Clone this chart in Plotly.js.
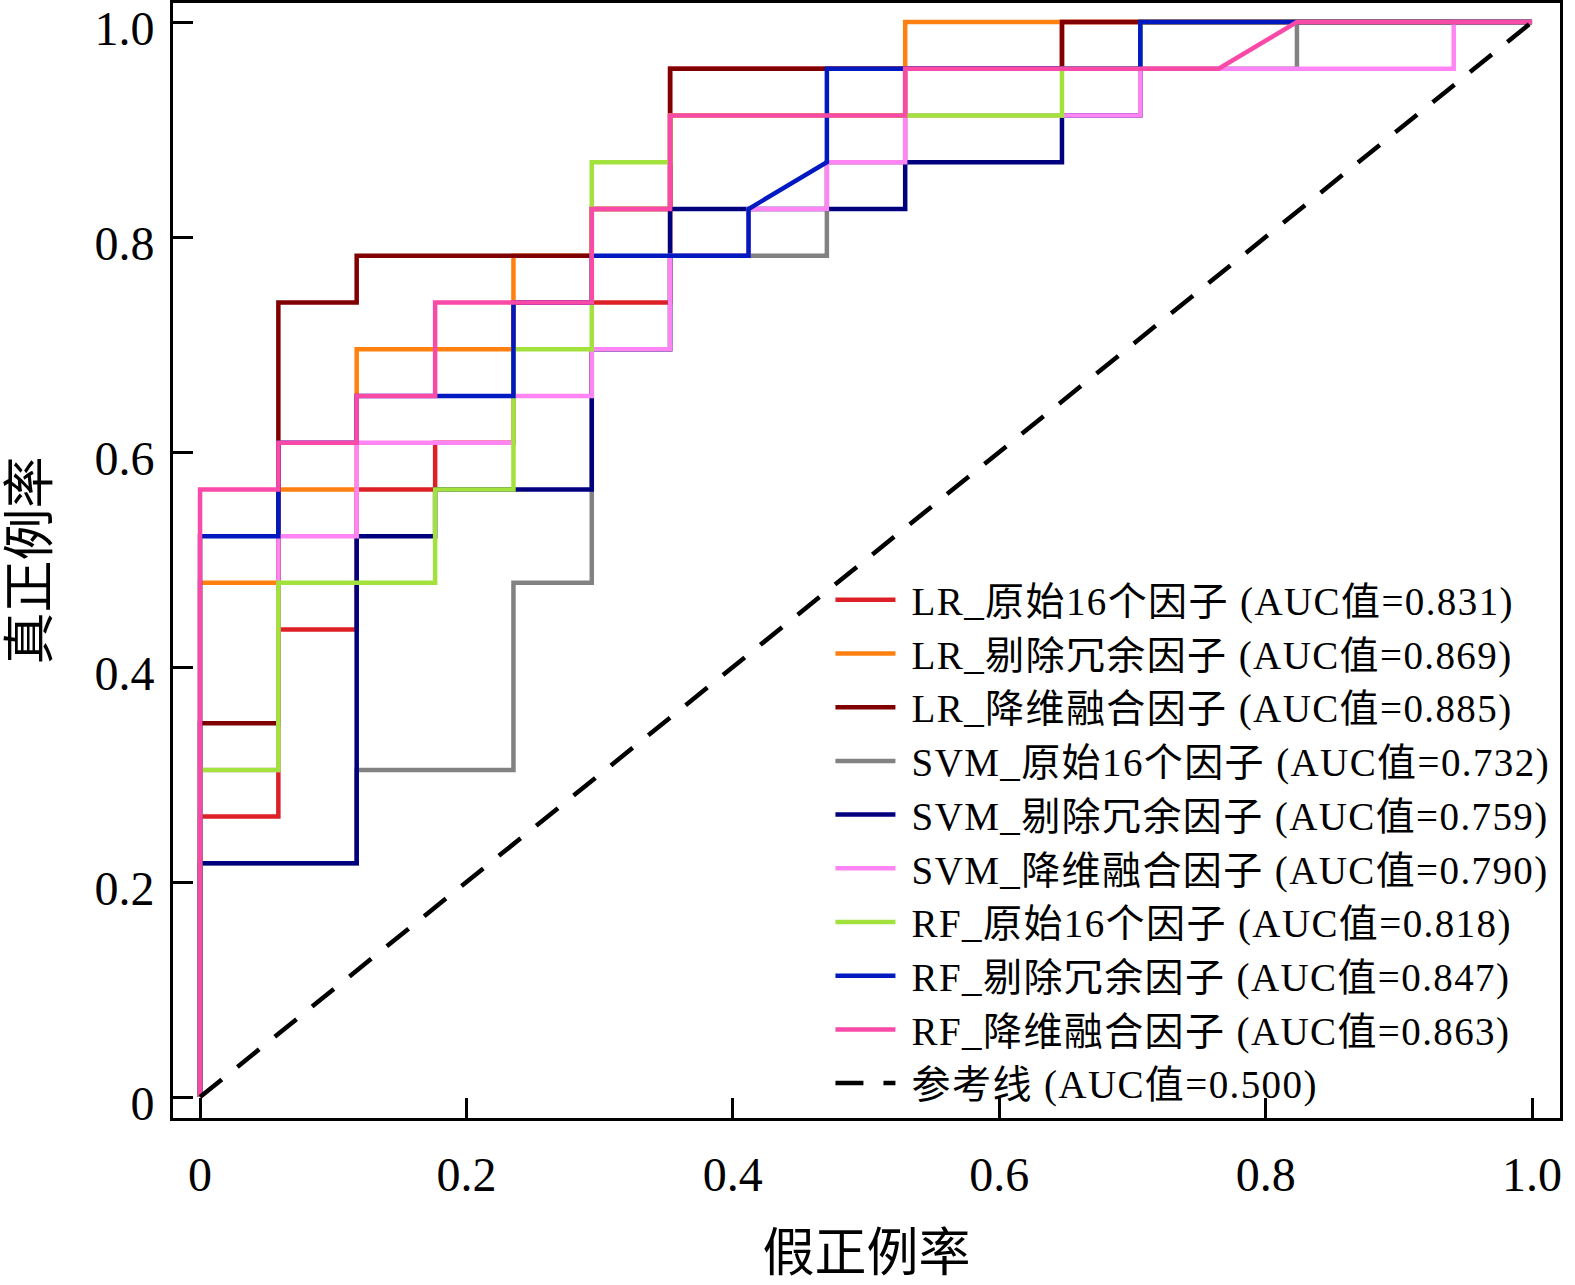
<!DOCTYPE html>
<html>
<head>
<meta charset="utf-8">
<script src="https://cdn.plot.ly/plotly-3.0.1.min.js"></script>
<style>
  html, body { margin: 0; padding: 0; background: #fff; }
  #roc { width: 1575px; height: 1285px; }
  .legendtext { letter-spacing: 1.4px; }
</style>
</head>
<body>
<div id="roc"></div>
<script>
// ROC 曲线数据 (假正例率 / 真正例率)
let lr_raw_x = [0, 0, 0.0588, 0.0588, 0.1176, 0.1176, 0.1765, 0.1765, 0.2353, 0.2353, 0.3529, 0.3529, 0.6471, 0.6471, 1];
let lr_raw_y = [0, 0.2609, 0.2609, 0.4348, 0.4348, 0.5652, 0.5652, 0.6087, 0.6087, 0.7391, 0.7391, 0.9565, 0.9565, 1, 1];

let lr_del_x = [0, 0, 0.0588, 0.0588, 0.1176, 0.1176, 0.2353, 0.2353, 0.2941, 0.2941, 0.3529, 0.3529, 0.5294, 0.5294, 1];
let lr_del_y = [0, 0.4783, 0.4783, 0.5652, 0.5652, 0.6957, 0.6957, 0.7826, 0.7826, 0.8261, 0.8261, 0.9130, 0.9130, 1, 1];

let lr_fus_x = [0, 0, 0.0588, 0.0588, 0.1176, 0.1176, 0.2941, 0.2941, 0.3529, 0.3529, 0.6471, 0.6471, 1];
let lr_fus_y = [0, 0.3478, 0.3478, 0.7391, 0.7391, 0.7826, 0.7826, 0.8261, 0.8261, 0.9565, 0.9565, 1, 1];

let svm_raw_x = [0, 0, 0.1176, 0.1176, 0.2353, 0.2353, 0.2941, 0.2941, 0.3529, 0.3529, 0.4706, 0.4706, 0.5294, 0.5294, 0.8235, 0.8235, 1];
let svm_raw_y = [0, 0.2174, 0.2174, 0.3043, 0.3043, 0.4783, 0.4783, 0.6957, 0.6957, 0.7826, 0.7826, 0.8696, 0.8696, 0.9565, 0.9565, 1, 1];

let svm_del_x = [0, 0, 0.1176, 0.1176, 0.1765, 0.1765, 0.2941, 0.2941, 0.3529, 0.3529, 0.5294, 0.5294, 0.6471, 0.6471, 0.7059, 0.7059, 1];
let svm_del_y = [0, 0.2174, 0.2174, 0.5217, 0.5217, 0.5652, 0.5652, 0.6957, 0.6957, 0.8261, 0.8261, 0.8696, 0.8696, 0.9130, 0.9130, 1, 1];

let svm_fus_x = [0, 0, 0.0588, 0.0588, 0.1176, 0.1176, 0.2353, 0.2353, 0.2941, 0.2941, 0.3529, 0.3529, 0.4118, 0.4118, 0.4706, 0.4706, 0.5294, 0.5294, 0.7059, 0.7059, 0.9412, 0.9412, 1];
let svm_fus_y = [0, 0.3043, 0.3043, 0.5217, 0.5217, 0.6087, 0.6087, 0.6522, 0.6522, 0.6957, 0.6957, 0.7826, 0.7826, 0.8261, 0.8261, 0.8696, 0.8696, 0.9130, 0.9130, 0.9565, 0.9565, 1, 1];

let rf_raw_x = [0, 0, 0.0588, 0.0588, 0.1765, 0.1765, 0.2353, 0.2353, 0.2941, 0.2941, 0.3529, 0.3529, 0.6471, 0.6471, 0.7059, 0.7059, 1];
let rf_raw_y = [0, 0.3043, 0.3043, 0.4783, 0.4783, 0.5652, 0.5652, 0.6957, 0.6957, 0.8696, 0.8696, 0.9130, 0.9130, 0.9565, 0.9565, 1, 1];

let rf_del_x = [0, 0, 0.0588, 0.0588, 0.1176, 0.1176, 0.2353, 0.2353, 0.2941, 0.2941, 0.4118, 0.4118, 0.4706, 0.4706, 0.7059, 0.7059, 1];
let rf_del_y = [0, 0.5217, 0.5217, 0.6087, 0.6087, 0.6522, 0.6522, 0.7391, 0.7391, 0.7826, 0.7826, 0.8261, 0.8696, 0.9565, 0.9565, 1, 1];

let rf_fus_x = [0, 0, 0.0588, 0.0588, 0.1176, 0.1176, 0.1765, 0.1765, 0.2941, 0.2941, 0.3529, 0.3529, 0.5294, 0.5294, 0.7647, 0.8235, 1];
let rf_fus_y = [0, 0.5652, 0.5652, 0.6087, 0.6087, 0.6522, 0.6522, 0.7391, 0.7391, 0.8261, 0.8261, 0.9130, 0.9130, 0.9565, 0.9565, 1, 1];

let ref_x = [0, 1];
let ref_y = [0, 1];

let names = [
    'LR_原始16个因子 (AUC值=0.831)',
    'LR_剔除冗余因子 (AUC值=0.869)',
    'LR_降维融合因子 (AUC值=0.885)',
    'SVM_原始16个因子 (AUC值=0.732)',
    'SVM_剔除冗余因子 (AUC值=0.759)',
    'SVM_降维融合因子 (AUC值=0.790)',
    'RF_原始16个因子 (AUC值=0.818)',
    'RF_剔除冗余因子 (AUC值=0.847)',
    'RF_降维融合因子 (AUC值=0.863)',
    '参考线 (AUC值=0.500)'
];
let colors = ['#dd2026', '#ff8010', '#800000', '#828282', '#00007f', '#ff85f5', '#a3e23c', '#0019c0', '#fa4aa8', '#000000'];

let xs = [lr_raw_x, lr_del_x, lr_fus_x, svm_raw_x, svm_del_x, svm_fus_x, rf_raw_x, rf_del_x, rf_fus_x, ref_x];
let ys = [lr_raw_y, lr_del_y, lr_fus_y, svm_raw_y, svm_del_y, svm_fus_y, rf_raw_y, rf_del_y, rf_fus_y, ref_y];

let data = [];
for (let i = 0; i < xs.length; i++) {
    data.push({
        type: 'scatter',
        mode: 'lines',
        // a no-break space keeps a small gap between the line sample and the text
        name: '\u00a0' + names[i],
        x: xs[i],
        y: ys[i],
        line: {
            color: colors[i],
            width: 4.5,
            dash: i === xs.length - 1 ? '28px,20px' : 'solid',
        },
        hoverinfo: 'skip',
    });
}

let fontFamily = '"Times New Roman", "Liberation Serif", "Noto Sans CJK SC", serif';

let axisCommon = {
    showline: true,
    mirror: true,
    linecolor: '#000',
    linewidth: 3,
    showgrid: false,
    zeroline: false,
    ticks: 'inside',
    ticklen: 20,
    tickwidth: 3,
    tickcolor: '#000',
    tickvals: [0, 0.2, 0.4, 0.6, 0.8, 1],
    ticktext: ['0', '0.2', '0.4', '0.6', '0.8', '1.0'],
    tickfont: { family: fontFamily, size: 48, color: '#000' },
    ticklabeloverflow: 'allow',
    automargin: false,
};

let layout = {
    width: 1575,
    height: 1285,
    margin: { l: 173, r: 15, t: 3, b: 167 },
    paper_bgcolor: '#fff',
    plot_bgcolor: '#fff',
    font: { family: fontFamily, color: '#000' },
    showlegend: true,
    legend: {
        x: 0.474,
        y: 0.4933,
        xanchor: 'left',
        yanchor: 'top',
        bgcolor: 'rgba(0,0,0,0)',
        font: { family: fontFamily, size: 39, color: '#000' },
        itemwidth: 60,
        tracegroupgap: 0,
    },
    xaxis: Object.assign({}, axisCommon, {
        range: [-0.0203, 1.021],
        ticklabelstandoff: 12,
        title: { text: '假正例率', font: { family: fontFamily, size: 52 }, standoff: 36 },
    }),
    yaxis: Object.assign({}, axisCommon, {
        range: [-0.0195, 1.0177],
        ticklabelstandoff: 6,
        ticklabelshift: 6,
        title: { text: '真正例率', font: { family: fontFamily, size: 52 }, standoff: 30 },
    }),
};

Plotly.newPlot(document.getElementById('roc'), data, layout, { staticPlot: true });
</script>
</body>
</html>
